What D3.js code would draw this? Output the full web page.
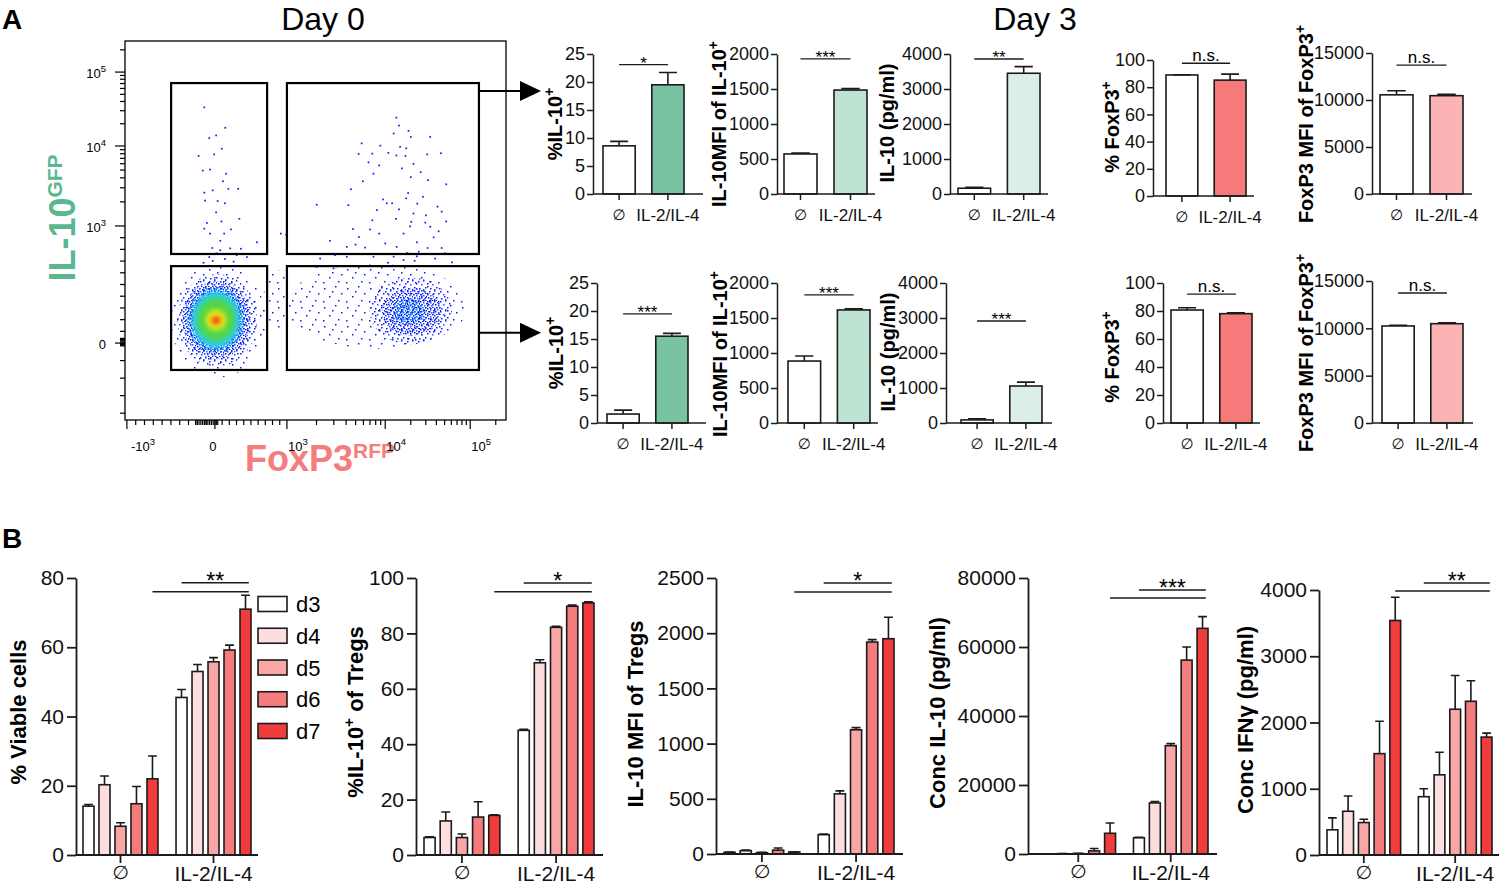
<!DOCTYPE html>
<html>
<head>
<meta charset="utf-8">
<script src="https://cdn.jsdelivr.net/npm/d3@7/dist/d3.min.js"></script>
<style>
html,body{margin:0;padding:0;background:#fff;}
svg{display:block;}
text{font-family:"Liberation Sans",Arial,Helvetica,sans-serif;}
</style>
</head>
<body>
<svg id="fig" width="1500" height="886"></svg>
<script>
// ================= DATA =================
const cats = ["\u2205", "IL-2/IL-4"];
const days = ["d3", "d4", "d5", "d6", "d7"];

// Panel A (Day 3) – upper gate, [∅, IL-2/IL-4]
const topPctIL10 = [8.6, 19.5],    topPctIL10Err = [9.4, 21.7];
const topMfiIL10 = [572, 1485],    topMfiIL10Err = [584, 1505];
const topPgIL10  = [165, 3450],    topPgIL10Err  = [192, 3640];
const topPctFox  = [89.0, 85.2],   topPctFoxErr  = [89.2, 89.6];
const topMfiFox  = [10550, 10460], topMfiFoxErr  = [10990, 10600];
// Panel A (Day 3) – lower gate
const botPctIL10 = [1.6, 15.5],    botPctIL10Err = [2.3, 16.0];
const botMfiIL10 = [885, 1615],    botMfiIL10Err = [958, 1630];
const botPgIL10  = [88, 1057],     botPgIL10Err  = [120, 1168];
const botPctFox  = [80.7, 78.1],   botPctFoxErr  = [82.3, 78.8];
const botMfiFox  = [10250, 10490], botMfiFoxErr  = [10330, 10595];

// Panel B – d3..d7
const viableNone = [14.1, 20.3, 8.3, 14.8, 22.0],  viableNoneErr = [14.6, 22.8, 9.3, 19.8, 28.6];
const viableIL   = [45.5, 53.0, 55.8, 59.2, 71.0], viableILErr   = [47.8, 55.0, 57.0, 60.6, 75.0];
const pctTregNone = [6.3, 12.3, 6.3, 13.7, 14.3],  pctTregNoneErr = [6.6, 15.5, 7.6, 19.2, 14.5];
const pctTregIL   = [45.0, 69.4, 82.2, 89.8, 91.0], pctTregILErr  = [45.4, 70.5, 82.6, 90.2, 91.4];
const mfiTregNone = [15, 30, 12, 35, 18],          mfiTregNoneErr = [18, 36, 15, 55, 21];
const mfiTregIL   = [175, 545, 1125, 1920, 1950],  mfiTregILErr   = [180, 572, 1145, 1942, 2145];
const concIL10None = [60, 80, 120, 900, 6000],     concIL10NoneErr = [90, 110, 200, 1600, 9000];
const concIL10IL   = [4700, 14800, 31400, 56200, 65400], concIL10ILErr = [4850, 15200, 32000, 60000, 68800];
const ifngNone = [380, 660, 490, 1530, 3540],      ifngNoneErr = [560, 890, 540, 2020, 3890];
const ifngIL   = [880, 1210, 2200, 2320, 1780],    ifngILErr   = [1000, 1550, 2710, 2630, 1840];

// Flow plot (channel units 0..1000 on both axes)
const flowXMajor = [-1000, 0, 1000, 10000, 100000];
const flowXLabels = [["-10","3"], ["0",""], ["10","3"], ["10","4"], ["10","5"]];
const flowYMajor = [0, 1000, 10000, 100000];
const flowYLabels = [["0",""], ["10","3"], ["10","4"], ["10","5"]];
const flowGates = [
  {x0:121, x1:373, y0:438, y1:889},
  {x0:425, x1:929, y0:438, y1:889},
  {x0:121, x1:373, y0:132, y1:406},
  {x0:425, x1:929, y0:132, y1:406}
];
const flowArrowsY = [868, 230];
const flowEvents = [
 [208,825],[263,771],[239,751],[221,744],[254,716],[234,701],[193,697],[204,658],[223,661],[265,650],
 [257,630],[297,610],[208,600],[230,606],[271,610],[243,578],[262,572],[210,579],[239,548],[215,520],
 [253,524],[300,531],[208,505],[278,503],[223,492],[260,492],[346,469],[250,473],[229,454],[276,453],
 [304,452],[250,448],[320,430],[221,430],[206,415],[285,418],[293,435],[240,440],[262,425],[230,420],
 [712,798],[719,777],[744,763],[705,756],[750,747],[801,747],[621,730],[670,724],[722,721],[738,717],
 [691,705],[712,698],[736,697],[793,701],[829,704],[613,702],[649,703],[639,680],[667,672],[757,676],
 [727,664],[652,650],[750,641],[795,633],[776,654],[843,622],[624,630],[593,609],[743,599],[677,582],
 [687,572],[701,572],[738,585],[782,589],[767,571],[820,563],[661,554],[719,556],[757,545],[790,540],
 [831,550],[503,568],[586,567],[649,527],[711,531],[751,523],[788,521],[843,524],[643,503],[598,504],
 [748,511],[801,510],[667,492],[614,483],[731,492],[823,498],[538,473],[683,466],[713,457],[766,469],
 [810,482],[582,457],[605,463],[630,455],[794,454],[831,454],[741,441],[771,444],[409,492],[423,489],
 [512,426],[551,435],[582,431],[652,431],[705,431],[731,422],[766,432],[814,426],[858,416],[470,407],
 [503,404],[547,400],[760,420],[690,415],[840,440]
];
// density regions: centre/radii in channels, level
const flowDensity = [
 {cx:245, cy:262, rx:125, ry:150, lvl:"halo"},
 {cx:242, cy:263, rx:105, ry:122, lvl:"blue"},
 {cx:240, cy:264, rx:90,  ry:102, lvl:"dense"},
 {cx:239, cy:264, rx:76,  ry:88,  lvl:"mix"},
 {cx:239, cy:265, rx:64,  ry:74,  lvl:"cyan"},
 {cx:239, cy:265, rx:50,  ry:57,  lvl:"green"},
 {cx:239, cy:264, rx:28,  ry:28,  lvl:"yellow"},
 {cx:239, cy:263, rx:16,  ry:15,  lvl:"orange"},
 {cx:239, cy:263, rx:8,   ry:7,   lvl:"red"},
 {cx:660, cy:300, rx:240, ry:112, lvl:"halo"},
 {cx:398, cy:316, rx:35,  ry:80,  lvl:"halo"},
 {cx:750, cy:288, rx:108, ry:88,  lvl:"blue"},
 {cx:752, cy:285, rx:78,  ry:62,  lvl:"dense"},
 {cx:745, cy:285, rx:42,  ry:34,  lvl:"mix"}
];

// ================= SETUP =================
const svg = d3.select("#fig");
const defs = svg.append("defs");
const INK = "#1b1b1b";

const BL="#0b1cf5", BL2="#2a50ff", LB="#2f9bff", CY="#12d6ec";
const patterns = {
  pHalo: {w:23, h:19, dots:[[2,3,BL],[13,1,BL],[19,8,BL],[7,11,BL],[16,15,BL],[1,16,BL],[10,6,BL]]},
  pBlue: {w:11, h:10, dots:[[0,1,BL],[5,0,BL],[9,3,BL],[3,4,BL2],[7,7,BL],[1,8,BL],[5,9,BL2]]},
  pDense:{w:7, h:7, dots:[[0,0,BL],[3,1,BL2],[6,2,BL],[1,3,BL],[4,4,BL2],[2,6,BL],[5,6,BL]]},
  pMix:  {w:6, h:6, dots:[[0,0,LB],[3,1,CY],[5,3,BL],[1,3,CY],[3,5,LB],[0,5,BL2],[4,0,BL]]}
};
Object.entries(patterns).forEach(([id,p]) => {
  const pat = defs.append("pattern").attr("id",id).attr("patternUnits","userSpaceOnUse")
    .attr("width",p.w).attr("height",p.h);
  p.dots.forEach(([x,y,c]) => pat.append("rect").attr("x",x).attr("y",y).attr("width",1.5).attr("height",1.5).attr("fill",c));
});
defs.append("filter").attr("id","soft").attr("x","-30%").attr("y","-30%").attr("width","160%").attr("height","160%")
  .append("feGaussianBlur").attr("stdDeviation",2.2);
defs.append("clipPath").attr("id","flowClip").append("rect").attr("x",125).attr("y",41).attr("width",381).attr("height",379);

const levelFill = {halo:"url(#pHalo)", blue:"url(#pBlue)", dense:"url(#pDense)", mix:"url(#pMix)",
  cyan:"#2ccde0", green:"#52d64a", yellow:"#d8e81f", orange:"#f7a018", red:"#e8321a"};

// ================= TITLES =================
svg.append("text").attr("x",2).attr("y",29).attr("font-size",28).attr("font-weight","bold").text("A");
svg.append("text").attr("x",2).attr("y",548).attr("font-size",28).attr("font-weight","bold").text("B");
svg.append("text").attr("x",323).attr("y",30).attr("font-size",32).attr("text-anchor","middle").text("Day 0");
svg.append("text").attr("x",1035).attr("y",30).attr("font-size",32).attr("text-anchor","middle").text("Day 3");

// ================= FLOW PLOT =================
const fx = d3.scaleLinear().domain([0,1000]).range([125,506]);
const fy = d3.scaleLinear().domain([0,1000]).range([420,41]);
function biex(chNeg, ch0, ch3, ch4, ch5){
  const lin = d3.scaleLinear().domain([-1000,0,1000]).range([chNeg,ch0,ch3]);
  return v => {
    if (v <= 1000) return lin(v);
    const d = Math.log10(v);
    return d <= 4 ? ch3 + (d-3)*(ch4-ch3) : ch4 + (d-4)*(ch5-ch4);
  };
}
const xCh = biex(5,236,425,683,906);
const yCh = biex(18,203,512,723,918);
const logMinors = [];
[3,4,5].forEach(d => { for (let m=2;m<=9;m++) logMinors.push(m*Math.pow(10,d)); });

const flow = svg.append("g");
const yl = flow.append("text").attr("transform","translate(75,218) rotate(-90)").attr("text-anchor","middle")
  .attr("font-weight","bold").attr("fill","#5ab78f");
yl.append("tspan").attr("font-size",36).text("IL-10");
yl.append("tspan").attr("font-size",21).attr("dy",-13).text("GFP");
const xl = flow.append("text").attr("x",245).attr("y",471).attr("font-weight","bold").attr("fill","#f47d7d");
xl.append("tspan").attr("font-size",36).text("FoxP3");
xl.append("tspan").attr("font-size",21).attr("dy",-13).text("RFP");

const dens = flow.append("g").attr("clip-path","url(#flowClip)");
dens.selectAll("ellipse").data(flowDensity).join("ellipse")
  .attr("cx",d=>fx(d.cx)).attr("cy",d=>fy(d.cy))
  .attr("rx",d=>fx(d.rx)-fx(0)).attr("ry",d=>fy(0)-fy(d.ry))
  .attr("fill",d=>levelFill[d.lvl])
  .attr("filter",d=>levelFill[d.lvl].startsWith("url") ? null : "url(#soft)");
dens.selectAll("rect.ev").data(flowEvents).join("rect").attr("class","ev")
  .attr("x",d=>fx(d[0])-0.8).attr("y",d=>fy(d[1])-0.8).attr("width",1.7).attr("height",1.7).attr("fill","#0a1ef0");

flow.selectAll("rect.gate").data(flowGates).join("rect").attr("class","gate")
  .attr("x",d=>fx(d.x0)).attr("y",d=>fy(d.y1)).attr("width",d=>fx(d.x1)-fx(d.x0)).attr("height",d=>fy(d.y0)-fy(d.y1))
  .attr("fill","none").attr("stroke","#000").attr("stroke-width",2.2);
flow.append("rect").attr("x",fx(0)).attr("y",fy(1000)).attr("width",fx(1000)-fx(0)).attr("height",fy(0)-fy(1000))
  .attr("fill","none").attr("stroke","#000").attr("stroke-width",1.3);
const xMinor = [...d3.range(-900,1000,100).filter(v=>v!==0), ...d3.range(-220,60,20), ...logMinors].map(xCh).filter(c=>c>=0&&c<=1000);
const yMinor = [-1000,-750,-500,-250, ...d3.range(100,1000,100), ...d3.range(-40,50,10), ...logMinors].map(yCh).filter(c=>c>=0&&c<=1000);
flow.selectAll("line.xt").data([...flowXMajor.map(v=>({c:xCh(v),L:9})), ...xMinor.map(c=>({c,L:5}))]).join("line")
  .attr("x1",d=>fx(d.c)).attr("x2",d=>fx(d.c)).attr("y1",fy(0)).attr("y2",d=>fy(0)+d.L).attr("stroke","#000").attr("stroke-width",1.2);
flow.selectAll("line.yt").data([...flowYMajor.map(v=>({c:yCh(v),L:10})), ...yMinor.map(c=>({c,L:5}))]).join("line")
  .attr("y1",d=>fy(d.c)).attr("y2",d=>fy(d.c)).attr("x1",fx(0)).attr("x2",d=>fx(0)-d.L).attr("stroke","#000").attr("stroke-width",1.2);
flowXLabels.forEach((lab,i) => {
  const cx = fx(xCh(flowXMajor[i]));
  const t = flow.append("text").attr("y",451).attr("font-size",13)
     .attr("x", lab[1]==="" ? cx-2 : cx + (i===0?4:1)).attr("text-anchor", lab[1]==="" ? "middle":"start");
  t.append("tspan").text(lab[0]);
  if (lab[1]) t.append("tspan").attr("font-size",9.5).attr("dy",-6).text(lab[1]);
});
flowYLabels.forEach((lab,i) => {
  const cy = fy(yCh(flowYMajor[i]));
  const t = flow.append("text").attr("x",106).attr("y",cy+6).attr("font-size",13).attr("text-anchor","end");
  t.append("tspan").text(lab[0]);
  if (lab[1]) t.append("tspan").attr("font-size",9.5).attr("dy",-6).text(lab[1]);
});
flowArrowsY.forEach(c => {
  const y = fy(c);
  flow.append("line").attr("x1",fx(929)).attr("x2",522).attr("y1",y).attr("y2",y).attr("stroke","#000").attr("stroke-width",2);
  flow.append("path").attr("d",`M520,${y-10}L541,${y}L520,${y+10}Z`).attr("fill","#000");
});

// ================= HELPERS =================
function styleAxis(sel, fs, sw){
  sel.select(".domain").attr("stroke",INK).attr("stroke-width",sw);
  sel.selectAll(".tick line").attr("stroke",INK).attr("stroke-width",sw);
  sel.selectAll(".tick text").attr("font-size",fs).attr("fill","#111")
     .style("font-family",'"Liberation Sans",Arial,sans-serif');
}
function yLabel(x, y, segs, size){
  const t = svg.append("text").attr("transform",`translate(${x},${y}) rotate(-90)`)
    .attr("text-anchor","middle").attr("font-weight","bold").attr("font-size",size);
  let first = true, raised = false;
  segs.forEach(s => {
    const ts = t.append("tspan").text(s.t);
    let dy = first ? size*0.36 : 0;
    if (s.sup && !raised){ dy -= size*0.42; raised = true; ts.attr("font-size",size*0.7); }
    else if (!s.sup && raised){ dy += size*0.42; raised = false; }
    if (dy) ts.attr("dy",dy);
    first = false;
  });
}

// ================= PANEL A BAR PAIRS =================
const GD="#79c3a3", GM="#bfe3d3", GL="#dbefe7", RD="#f77a7b", PK="#fcb3b3";
const aCharts = [
 {v:topPctIL10, e:topPctIL10Err, fill:GD, max:25, step:5, ax:593, axEnd:703, b0:603, b1:684, y0:194, y1:54,
  label:[{t:"%IL-10"},{t:"+",sup:1}], lx:555, ly:124, sig:23.1, st:"*"},
 {v:topMfiIL10, e:topMfiIL10Err, fill:GM, max:2000, step:500, ax:777, axEnd:875, b0:784, b1:867, y0:194, y1:54,
  label:[{t:"IL-10MFI of IL-10"},{t:"+",sup:1}], lx:719, ly:124, sig:1929, st:"***"},
 {v:topPgIL10, e:topPgIL10Err, fill:GL, max:4000, step:1000, ax:950, axEnd:1048, b0:958, b1:1040, y0:194, y1:54,
  label:[{t:"IL-10 (pg/ml)"}], lx:887, ly:123, sig:3857, st:"**"},
 {v:topPctFox, e:topPctFoxErr, fill:RD, max:100, step:20, ax:1153, axEnd:1254, b0:1166, b1:1246, y0:196, y1:60,
  label:[{t:"% FoxP3"},{t:"+",sup:1}], lx:1112, ly:127, sig:97.6, st:"n.s."},
 {v:topMfiFox, e:topMfiFoxErr, fill:PK, max:15000, step:5000, ax:1372, axEnd:1472, b0:1380, b1:1463, y0:194, y1:53,
  label:[{t:"FoxP3 MFI of FoxP3"},{t:"+",sup:1}], lx:1306, ly:124, sig:13720, st:"n.s."},
 {v:botPctIL10, e:botPctIL10Err, fill:GD, max:25, step:5, ax:597, axEnd:706, b0:607, b1:688, y0:423, y1:283,
  label:[{t:"%IL-10"},{t:"+",sup:1}], lx:556, ly:353, sig:19.5, st:"***"},
 {v:botMfiIL10, e:botMfiIL10Err, fill:GM, max:2000, step:500, ax:777, axEnd:878, b0:788, b1:870, y0:423, y1:283,
  label:[{t:"IL-10MFI of IL-10"},{t:"+",sup:1}], lx:720, ly:354, sig:1829, st:"***"},
 {v:botPgIL10, e:botPgIL10Err, fill:GL, max:4000, step:1000, ax:946, axEnd:1052, b0:961, b1:1042, y0:423, y1:283,
  label:[{t:"IL-10 (pg/ml)"}], lx:888, ly:352, sig:2914, st:"***"},
 {v:botPctFox, e:botPctFoxErr, fill:RD, max:100, step:20, ax:1163, axEnd:1260, b0:1171, b1:1252, y0:423, y1:283,
  label:[{t:"% FoxP3"},{t:"+",sup:1}], lx:1112, ly:357, sig:92, st:"n.s."},
 {v:botMfiFox, e:botMfiFoxErr, fill:PK, max:15000, step:5000, ax:1372, axEnd:1473, b0:1382, b1:1463, y0:423, y1:281,
  label:[{t:"FoxP3 MFI of FoxP3"},{t:"+",sup:1}], lx:1306, ly:353, sig:13730, st:"n.s."}
];

aCharts.forEach(c => {
  const g = svg.append("g");
  const y = d3.scaleLinear().domain([0,c.max]).range([c.y0,c.y1]);
  const x = d3.scaleBand().domain(cats).range([c.b0,c.b1]).paddingInner(0.34);
  const bw = x.bandwidth();
  const rows = cats.map((k,i)=>({k, v:c.v[i], e:c.e[i], fill: i===0 ? "#ffffff" : c.fill}));
  g.selectAll("rect").data(rows).join("rect")
    .attr("x",d=>x(d.k)).attr("y",d=>y(d.v)).attr("width",bw).attr("height",d=>y(0)-y(d.v))
    .attr("fill",d=>d.fill).attr("stroke",INK).attr("stroke-width",1.6);
  g.selectAll("path.eb").data(rows).join("path").attr("class","eb")
    .attr("d",d=>{const cx=x(d.k)+bw/2; return `M${cx},${y(d.v)}V${y(d.e)}M${cx-bw*0.28},${y(d.e)}H${cx+bw*0.28}`;})
    .attr("stroke",INK).attr("stroke-width",1.6).attr("fill","none");
  const ya = d3.axisLeft(y).tickValues(d3.range(0,c.max+1e-9,c.step)).tickSize(6).tickSizeOuter(0).tickPadding(2).tickFormat(d3.format("d"));
  g.append("g").attr("transform",`translate(${c.ax},0)`).call(ya).call(styleAxis,18,1.5);
  g.append("line").attr("x1",c.ax).attr("x2",c.axEnd).attr("y1",y(0)).attr("y2",y(0)).attr("stroke",INK).attr("stroke-width",1.5);
  const xa = d3.axisBottom(x).tickSize(6).tickPadding(9);
  const xg = g.append("g").attr("transform",`translate(0,${y(0)})`).call(xa).call(styleAxis,17,1.5);
  xg.select(".domain").remove();
  xg.selectAll(".tick text").filter(d=>d===cats[0]).style("font-family","'DejaVu Sans',sans-serif").attr("font-size",15);
  const sx0 = x(cats[0])+bw/2, sx1 = x(cats[1])+bw/2, sy = y(c.sig);
  g.append("line").attr("x1",sx0).attr("x2",sx1).attr("y1",sy).attr("y2",sy).attr("stroke",INK).attr("stroke-width",1.3);
  g.append("text").attr("x",(sx0+sx1)/2).attr("y", c.st==="n.s." ? sy-2 : sy+4).attr("text-anchor","middle")
    .attr("font-size",17).text(c.st);
  yLabel(c.lx, c.ly, c.label, 20);
});

// ================= PANEL B GROUPED =================
const dayColors = ["#ffffff", "#fddede", "#f9a6a6", "#f57c7c", "#f03c3d"];
const bCharts = [
 {none:viableNone, noneE:viableNoneErr, il:viableIL, ilE:viableILErr, max:80, step:20, ax:76, axEnd:258, b0:83, b1:251, y0:855, y1:578,
  label:[{t:"% Viable cells"}], lx:18, ly:712, sigL:76, sigS:78.6, st:"**"},
 {none:pctTregNone, noneE:pctTregNoneErr, il:pctTregIL, ilE:pctTregILErr, max:100, step:20, ax:416, axEnd:603, b0:424, b1:594, y0:855, y1:578,
  label:[{t:"%IL-10"},{t:"+",sup:1},{t:" of Tregs"}], lx:355, ly:712, sigL:95, sigS:98.2, st:"*"},
 {none:mfiTregNone, noneE:mfiTregNoneErr, il:mfiTregIL, ilE:mfiTregILErr, max:2500, step:500, ax:716, axEnd:903, b0:724, b1:894, y0:854, y1:578,
  label:[{t:"IL-10 MFI of Tregs"}], lx:635, ly:714, sigL:2373, sigS:2455, st:"*"},
 {none:concIL10None, noneE:concIL10NoneErr, il:concIL10IL, ilE:concIL10ILErr, max:80000, step:20000, ax:1028, axEnd:1217, b0:1041, b1:1208, y0:854, y1:578,
  label:[{t:"Conc IL-10 (pg/ml)"}], lx:937, ly:713, sigL:74200, sigS:76500, st:"***"},
 {none:ifngNone, noneE:ifngNoneErr, il:ifngIL, ilE:ifngILErr, max:4000, step:1000, ax:1319, axEnd:1499, b0:1327, b1:1492, y0:855, y1:590,
  label:[{t:"Conc IFN\u03b3 (pg/ml)"}], lx:1245, ly:720, sigL:3985, sigS:4106, st:"**"}
];

bCharts.forEach(c => {
  const g = svg.append("g");
  const y = d3.scaleLinear().domain([0,c.max]).range([c.y0,c.y1]);
  const xg = d3.scaleBand().domain(cats).range([c.b0,c.b1]).paddingInner(0.194);
  const xd = d3.scaleBand().domain(days).range([0,xg.bandwidth()]).paddingInner(0.3125);
  const bw = xd.bandwidth();
  const rows = [];
  days.forEach((d,i) => {
    rows.push({cat:cats[0], day:d, v:c.none[i], e:c.noneE[i], col:dayColors[i]});
    rows.push({cat:cats[1], day:d, v:c.il[i], e:c.ilE[i], col:dayColors[i]});
  });
  const bx = d => xg(d.cat)+xd(d.day);
  g.selectAll("rect").data(rows).join("rect")
    .attr("x",bx).attr("y",d=>y(d.v)).attr("width",bw).attr("height",d=>Math.max(0,y(0)-y(d.v)))
    .attr("fill",d=>d.col).attr("stroke",INK).attr("stroke-width",1.6);
  g.selectAll("path.eb").data(rows).join("path").attr("class","eb")
    .attr("d",d=>{const cx=bx(d)+bw/2; return `M${cx},${y(d.v)}V${y(d.e)}M${cx-bw*0.4},${y(d.e)}H${cx+bw*0.4}`;})
    .attr("stroke",INK).attr("stroke-width",1.6).attr("fill","none");
  const ya = d3.axisLeft(y).tickValues(d3.range(0,c.max+1e-9,c.step)).tickSize(9).tickSizeOuter(0).tickPadding(3).tickFormat(d3.format("d"));
  g.append("g").attr("transform",`translate(${c.ax},0)`).call(ya).call(styleAxis,21,1.8);
  g.append("line").attr("x1",c.ax).attr("x2",c.axEnd).attr("y1",y(0)).attr("y2",y(0)).attr("stroke",INK).attr("stroke-width",1.8);
  const xa = d3.axisBottom(xg).tickSize(8).tickPadding(3);
  const xgg = g.append("g").attr("transform",`translate(0,${y(0)})`).call(xa).call(styleAxis,21,1.8);
  xgg.select(".domain").remove();
  xgg.selectAll(".tick text").filter(d=>d===cats[0]).style("font-family","'DejaVu Sans',sans-serif").attr("font-size",19);
  const xLong0 = xg(cats[0])+xd("d7")+bw/2, xEnd = xg(cats[1])+xd("d7")+bw*0.8, xShort0 = xg(cats[1])+xd("d3")+bw/2;
  g.append("line").attr("x1",xLong0).attr("x2",xEnd).attr("y1",y(c.sigL)).attr("y2",y(c.sigL)).attr("stroke",INK).attr("stroke-width",1.5);
  g.append("line").attr("x1",xShort0).attr("x2",xEnd).attr("y1",y(c.sigS)).attr("y2",y(c.sigS)).attr("stroke",INK).attr("stroke-width",1.5);
  g.append("text").attr("x",(xShort0+xEnd)/2).attr("y",y(c.sigS)+6).attr("text-anchor","middle").attr("font-size",23).text(c.st);
  yLabel(c.lx, c.ly, c.label, 22);
});

// legend (panel B, first chart)
const leg = svg.append("g");
const legY = d3.scalePoint().domain(days).range([604,731]);
leg.selectAll("rect").data(days).join("rect")
  .attr("x",258).attr("y",d=>legY(d)-7.5).attr("width",29).attr("height",15)
  .attr("fill",(d,i)=>dayColors[i]).attr("stroke",INK).attr("stroke-width",1.6);
leg.selectAll("text").data(days).join("text")
  .attr("x",296).attr("y",d=>legY(d)+8).attr("font-size",22).text(d=>d);
</script>
</body>
</html>
